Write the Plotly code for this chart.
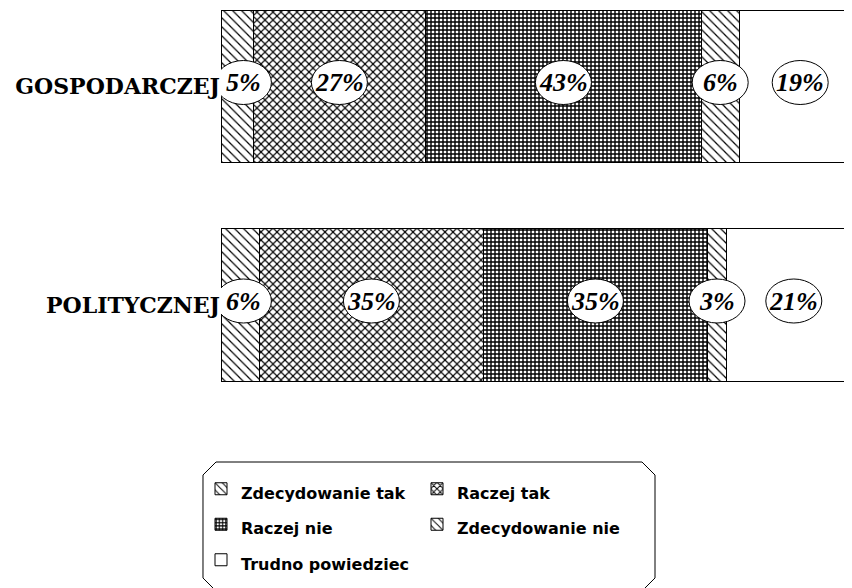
import plotly.graph_objects as go

# ---------------- data ----------------
categories = ["GOSPODARCZEJ", "POLITYCZNEJ"]
series_names = ["Zdecydowanie tak", "Raczej tak", "Raczej nie",
                "Zdecydowanie nie", "Trudno powiedziec"]
zdecydowanie_tak = [5, 6]
raczej_tak = [27, 35]
raczej_nie = [43, 35]
zdecydowanie_nie = [6, 3]
trudno_powiedziec = [19, 21]
series_values = [zdecydowanie_tak, raczej_tak, raczej_nie,
                 zdecydowanie_nie, trudno_powiedziec]

# ---------------- layout / styling ----------------
OFF = 8                    # page body margin of the html page
W, H = 852 - OFF, 588 - OFF
ML, MR, MT, MB = 221 - OFF, 0, 0, 148
PW, PH = W - ML - MR, H - MT - MB
PX_PER_PCT = 6.4
UNIT_PX = 218.5            # distance between bar centres in px
Y_POS = [1, 0]             # category positions on y axis
y_top = 1 + (86.5 - OFF) / UNIT_PX
y_bot = y_top - PH / UNIT_PX

patterns = [
    dict(shape="\\", size=6.364, solidity=0.19),
    dict(shape="x", size=5.657, solidity=0.38),
    dict(shape="+", size=4.0, solidity=0.58),
    dict(shape="\\", size=6.364, solidity=0.19),
    dict(shape=""),
]
legend_of = ["legend", "legend2", "legend", "legend2", "legend"]

fig = go.Figure()
for name, vals, pat, lg in zip(series_names, series_values, patterns, legend_of):
    p = dict(pat)
    if p["shape"]:
        p.update(fgcolor="black", bgcolor="white", fillmode="overlay",
                 fgopacity=1)
    fig.add_trace(go.Bar(
        x=vals, y=Y_POS, orientation="h", width=0.70,
        name=f'<span style="font-size:16px">{name}</span>',
        legend=lg,
        marker=dict(color="white", line=dict(color="black", width=1), pattern=p),
        hoverinfo="skip",
    ))

# percentage labels in ellipses
for bi, ypos in enumerate(Y_POS):
    left = 0
    for vals in series_values:
        v = vals[bi]
        cx = max(left + v / 2, 3.5)
        left += v
        fig.add_shape(type="circle", xref="x", yref="y",
                      xsizemode="pixel", xanchor=cx, x0=-28, x1=28,
                      ysizemode="pixel", yanchor=ypos, y0=-18, y1=26,
                      fillcolor="white", line=dict(color="black", width=1),
                      layer="above")
        fig.add_annotation(x=cx, y=ypos, text=f"{v}%", showarrow=False,
                           yshift=4,
                           font=dict(family="Liberation Serif", size=26,
                                     color="black", weight="bold", style="italic"))


def px2paper(px, py):
    """target-picture pixel -> paper coordinate"""
    return (px - OFF - ML) / PW, (MT + PH - (py - OFF)) / PH


# legend frame (bevelled box)
pts = [(216, 462), (642, 462), (655, 475), (655, 578), (642, 591),
       (216, 591), (203, 578), (203, 475)]
path = ""
for i, (px, py) in enumerate(pts):
    xx, yy = px2paper(px, py)
    path += ("M" if i == 0 else "L") + f"{xx:.5f},{yy:.5f} "
path += "Z"
fig.add_shape(type="path", xref="paper", yref="paper", path=path,
              line=dict(color="black", width=1), fillcolor="rgba(0,0,0,0)")

leg_font = dict(family="DejaVu Sans", size=25, color="black", weight="bold")
lx1, ly = px2paper(201, 466)
lx2, _ = px2paper(417, 466)
fig.update_layout(
    width=W, height=H,
    margin=dict(l=ML, r=MR, t=MT, b=MB, autoexpand=False),
    paper_bgcolor="white", plot_bgcolor="white",
    barmode="stack",
    showlegend=True,
    legend=dict(x=lx1, y=ly, xanchor="left", yanchor="top", orientation="v",
                traceorder="normal", font=leg_font, bgcolor="rgba(0,0,0,0)",
                borderwidth=0),
    legend2=dict(x=lx2, y=ly, xanchor="left", yanchor="top", orientation="v",
                 traceorder="normal", font=leg_font, bgcolor="rgba(0,0,0,0)",
                 borderwidth=0),
    xaxis=dict(range=[0, PW / PX_PER_PCT], showgrid=False, zeroline=False,
               showticklabels=False, showline=False, ticks=""),
    yaxis=dict(range=[y_bot, y_top], tickvals=Y_POS, ticktext=categories,
               showgrid=False, zeroline=False, showline=False, ticks="",
               tickfont=dict(family="DejaVu Serif", size=22, color="black",
                             weight="bold")),
)

fig.write_html("out.html")
